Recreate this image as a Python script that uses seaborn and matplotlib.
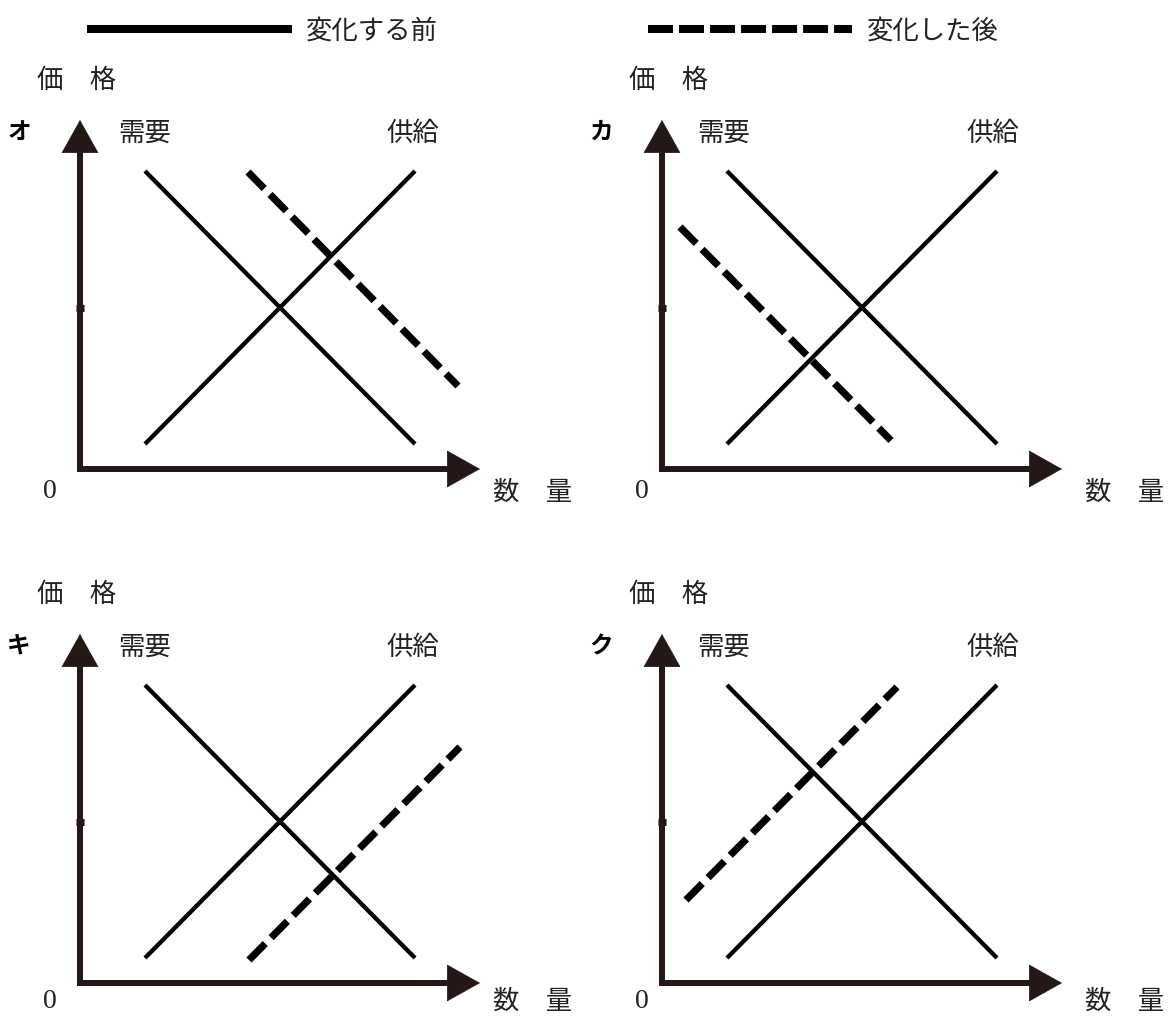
import matplotlib
matplotlib.use("Agg")
import matplotlib.pyplot as plt
import seaborn as sns
from matplotlib.lines import Line2D

# ---------------- data (quantity / price, arbitrary units) ----------------
PANELS = ["オ", "カ", "キ", "ク"]

DEMAND_Q = [6.5, 33.5]
DEMAND_P = [29.8, 2.5]
SUPPLY_Q = [6.5, 33.5]
SUPPLY_P = [2.5, 29.8]

SHIFT_O_Q = [16.8, 37.8]   # オ: demand shifts right
SHIFT_O_P = [29.7, 8.3]
SHIFT_KA_Q = [1.8, 22.9]   # カ: demand shifts left
SHIFT_KA_P = [24.2, 2.85]
SHIFT_KI_Q = [16.9, 38.0]  # キ: supply shifts right
SHIFT_KI_P = [2.3, 23.6]
SHIFT_KU_Q = [2.4, 23.5]   # ク: supply shifts left
SHIFT_KU_P = [8.3, 29.6]

SHIFTS = {"オ": (SHIFT_O_Q, SHIFT_O_P), "カ": (SHIFT_KA_Q, SHIFT_KA_P),
          "キ": (SHIFT_KI_Q, SHIFT_KI_P), "ク": (SHIFT_KU_Q, SHIFT_KU_P)}

EQ_PRICE = 16.1
LEGEND_LABELS = ["変化する前", "変化した後"]
AXIS_Y_LABEL = "価　格"
AXIS_X_LABEL = "数　量"
DEMAND_LABEL = "需要"
SUPPLY_LABEL = "供給"

# ---------------- styling ----------------
sns.set_theme(style="white")
plt.rcParams["font.family"] = ["Noto Sans CJK JP", "DejaVu Sans"]

W, H = 1169, 1017
PX = 10.0  # pixels per unit
fig = plt.figure(figsize=(W / 100, H / 100), dpi=100)
fig.patch.set_facecolor("white")

AXC = "#231815"
TXT = "#222222"
JP = ["Noto Sans CJK JP", "DejaVu Sans"]
FS = 19

origins = {"オ": (80, 469), "カ": (662, 469), "キ": (80, 983), "ク": (662, 983)}
col_off = {"オ": 0, "カ": 1, "キ": 0, "ク": 1}
row_off = {"オ": 0, "カ": 0, "キ": 1, "ク": 1}
XL = (-8.5, 51.0)
YL = (-4.5, 44.5)

for name in PANELS:
    ox, oy = origins[name]
    rect = [(ox + XL[0] * PX) / W,
            1 - (oy - YL[0] * PX) / H,
            (XL[1] - XL[0]) * PX / W,
            (YL[1] - YL[0]) * PX / H]
    ax = fig.add_axes(rect)
    ax.set_xlim(*XL)
    ax.set_ylim(*YL)
    ax.patch.set_alpha(0)

    for s in ["top", "right"]:
        ax.spines[s].set_visible(False)
    ax.spines["left"].set_position(("data", 0))
    ax.spines["bottom"].set_position(("data", 0))
    ax.spines["left"].set_bounds(0, 32.0)
    ax.spines["bottom"].set_bounds(0, 37.0)
    for s in ["left", "bottom"]:
        ax.spines[s].set_linewidth(4.3)
        ax.spines[s].set_color(AXC)
        ax.spines[s].set_capstyle("projecting")

    ax.set_xticks([])
    ax.set_yticks([EQ_PRICE])
    ax.set_yticklabels([])
    ax.tick_params(axis="y", left=True, length=6, width=5, direction="inout", color="#111111")

    # arrow heads
    ax.annotate("", xy=(0, 34.9), xytext=(0, 31.7),
                arrowprops=dict(arrowstyle="-|>,head_length=1.0,head_width=0.56",
                                mutation_scale=23, color=AXC, lw=0.5, shrinkA=0, shrinkB=0))
    ax.annotate("", xy=(40.0, 0), xytext=(36.8, 0),
                arrowprops=dict(arrowstyle="-|>,head_length=1.0,head_width=0.56",
                                mutation_scale=23, color=AXC, lw=0.5, shrinkA=0, shrinkB=0))

    # curves
    sns.lineplot(x=DEMAND_Q, y=DEMAND_P, ax=ax, color="black", lw=3.1,
                 sort=False, estimator=None, solid_capstyle="butt")
    sns.lineplot(x=SUPPLY_Q, y=SUPPLY_P, ax=ax, color="black", lw=3.1,
                 sort=False, estimator=None, solid_capstyle="butt")
    sq, sp = SHIFTS[name]
    sns.lineplot(x=sq, y=sp, ax=ax, color="black", lw=5.2,
                 linestyle=(0, (3.2, 1.15)), dash_capstyle="butt",
                 sort=False, estimator=None)
    ax.set_xlabel("")
    ax.set_ylabel("")

    c = col_off[name]
    r = row_off[name]
    ax.text(-4.3 + c * 1.0, 38.9, AXIS_Y_LABEL, ha="left", va="center",
            fontsize=FS, color=TXT, family=JP)
    ax.text(-6.1, 33.7, name, ha="center", va="center", fontsize=17,
            fontweight="bold", color="black", family=JP)
    ax.text(3.8 - c * 0.3, 33.6, DEMAND_LABEL, ha="left", va="center",
            fontsize=FS, color=TXT, family=JP)
    ax.text(30.6 - c * 0.2, 33.6, SUPPLY_LABEL, ha="left", va="center",
            fontsize=FS, color=TXT, family=JP)
    ax.text(-3.0 + c * 1.0, -2.2 + r * 0.35, "0", ha="center", va="center",
            fontsize=20, color=TXT, family=["Liberation Serif", "DejaVu Serif"])
    ax.text(41.3 + c * 1.0, -2.3 + r * 0.45, AXIS_X_LABEL, ha="left", va="center",
            fontsize=FS, color=TXT, family=JP)

# legend
h1 = Line2D([], [], color="black", lw=5.8, solid_capstyle="butt")
h2 = Line2D([], [], color="black", lw=5.8, linestyle=(0, (3.1, 0.75)), dash_capstyle="butt")
fig.legend(handles=[h1, h2], labels=LEGEND_LABELS, loc="center left",
           bbox_to_anchor=(87 / W, 1 - 31 / H), ncol=2, frameon=False,
           handlelength=7.75, handletextpad=0.55, columnspacing=7.95,
           borderpad=0, borderaxespad=0, labelcolor=TXT,
           prop={"family": JP, "size": FS})

fig.savefig("out.png", dpi=100, facecolor="white")
